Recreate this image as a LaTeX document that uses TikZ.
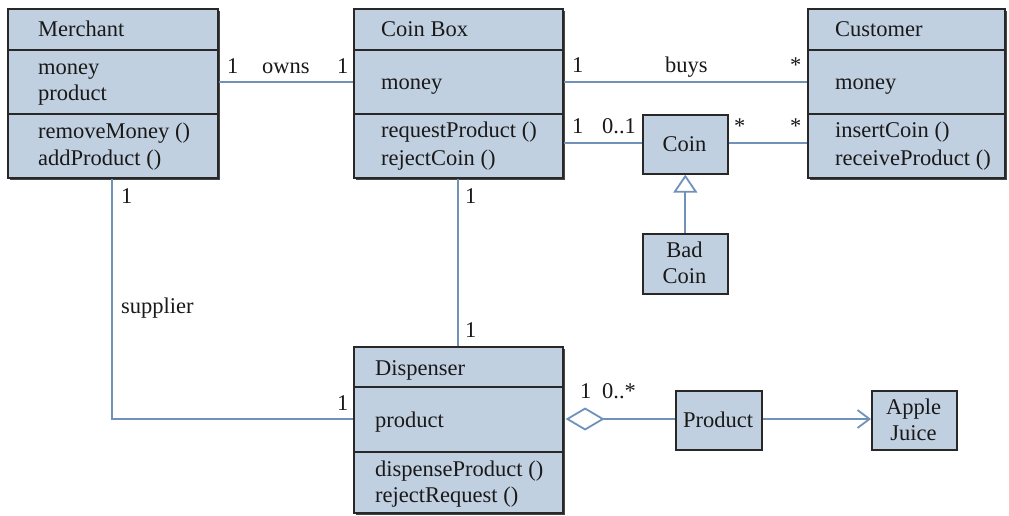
\documentclass[tikz,border=0pt]{standalone}
\usepackage{fontspec}
\setmainfont{Liberation Serif}
\newfontfamily\diagserif{Liberation Serif}
\usetikzlibrary{arrows.meta,calc}
\definecolor{boxfill}{RGB}{193,208,225}
\definecolor{linkcol}{RGB}{112,146,184}
\definecolor{edgecol}{RGB}{40,40,40}
\definecolor{shadowcol}{RGB}{70,70,70}
\tikzset{
  classbox/.style={draw=edgecol, line width=1.6pt, fill=boxfill, inner sep=0pt, anchor=north west},
  txt/.style={anchor=base west, inner sep=0pt, font=\diagserif\fontsize{22.5}{26}\selectfont, text=black!90},
  ctxt/.style={anchor=base, inner sep=0pt, font=\diagserif\fontsize{22.5}{26}\selectfont, text=black!90},
  assoc/.style={draw=linkcol, line width=1.8pt},
  divider/.style={draw=edgecol, line width=1.6pt},
}
\newcommand{\shadowbox}[4]{\fill[shadowcol] (#1+3,#2+3) rectangle (#3+3,#4+3);}
\begin{document}
\begin{tikzpicture}[x=1pt,y=-1pt]
\useasboundingbox (0,0) rectangle (1009,515);
% shadows
\shadowbox{7}{8}{217}{177}
\shadowbox{353}{8}{562}{177}
\shadowbox{807}{8}{1004}{177}
\shadowbox{353}{346}{562}{512}
% boxes
\node[classbox, minimum width=210pt, minimum height=169pt] (merchant) at (7,8) {};
\node[classbox, minimum width=209pt, minimum height=169pt] (coinbox) at (353,8) {};
\node[classbox, minimum width=197pt, minimum height=169pt] (customer) at (807,8) {};
\node[classbox, minimum width=209pt, minimum height=166pt] (dispenser) at (353,346) {};
\node[classbox, minimum width=85pt, minimum height=59pt] (coin) at (642,114) {};
\node[classbox, minimum width=85pt, minimum height=60pt] (badcoin) at (642,233) {};
\node[classbox, minimum width=86pt, minimum height=59pt] (product) at (675,390) {};
\node[classbox, minimum width=85pt, minimum height=59pt] (apple) at (871,390) {};
% dividers
\draw[divider] (merchant.west |- 0,50) -- (merchant.east |- 0,50);
\draw[divider] (merchant.west |- 0,114) -- (merchant.east |- 0,114);
\draw[divider] (coinbox.west |- 0,50) -- (coinbox.east |- 0,50);
\draw[divider] (coinbox.west |- 0,114) -- (coinbox.east |- 0,114);
\draw[divider] (customer.west |- 0,50) -- (customer.east |- 0,50);
\draw[divider] (customer.west |- 0,114) -- (customer.east |- 0,114);
\draw[divider] (dispenser.west |- 0,387) -- (dispenser.east |- 0,387);
\draw[divider] (dispenser.west |- 0,452) -- (dispenser.east |- 0,452);
% class texts
\node[txt] (mname) at (38,36) {Merchant};
\node[txt] (mmoney) at (38,74) {money};
\node[txt] (mprod) at (38,100) {product};
\node[txt] (mrem) at (38,138) {removeMoney ()};
\node[txt] (madd) at (38,165) {addProduct ()};
\node[txt] (cbname) at (381,36) {Coin Box};
\node[txt] (cbmoney) at (381,89) {money};
\node[txt] (cbreq) at (381,137) {requestProduct ()};
\node[txt] (cbrej) at (381,165) {rejectCoin ()};
\node[txt] (cuname) at (835,36) {Customer};
\node[txt] (cumoney) at (835,89) {money};
\node[txt] (cuins) at (835,137) {insertCoin ()};
\node[txt] (curec) at (835,165) {receiveProduct ()};
\node[txt] (dname) at (375,375) {Dispenser};
\node[txt] (dprod) at (375,427) {product};
\node[txt] (ddisp) at (375,476) {dispenseProduct ()};
\node[txt] (drej) at (375,502) {rejectRequest ()};
\node[ctxt] (cointxt) at (684.5,151) {Coin};
\node[ctxt] (badtxt1) at (684.5,257) {Bad};
\node[ctxt] (badtxt2) at (684.5,283) {Coin};
\node[ctxt] (prodtxt) at (718,427) {Product};
\node[ctxt] (appletxt1) at (913.5,414) {Apple};
\node[ctxt] (appletxt2) at (913.5,440) {Juice};
% connectors
\draw[assoc] (merchant.east |- 0,82) -- (coinbox.west |- 0,82);
\draw[assoc] (coinbox.east |- 0,82) -- (customer.west |- 0,82);
\draw[assoc] (coinbox.east |- 0,143) -- (coin.west |- 0,143);
\draw[assoc] (coin.east |- 0,143) -- (customer.west |- 0,143);
\draw[assoc, -{Triangle[open, length=18pt, width=24pt, fill=white]}] (badcoin.north) -- (coin.south);
\draw[assoc] (merchant.south -| 112,0) -- (112,419) -- (dispenser.west |- 0,419);
\draw[assoc] (coinbox.south -| 458,0) -- (dispenser.north -| 458,0);
\draw[assoc, {Diamond[open, length=39pt, width=23pt, fill=white]}-] ($(dispenser.east |- 0,419)+(2,0)$) -- (product.west |- 0,419);
\draw[assoc, -{Straight Barb[length=12pt, width=18pt]}] (product.east |- 0,419) -- (apple.west |- 0,419);
% multiplicities and roles
\node[txt] (m1) at (227,73) {1};
\node[txt] (owns) at (262,73) {owns};
\node[txt] (m2) at (337,73) {1};
\node[txt] (m3) at (572,72) {1};
\node[txt] (buys) at (665,72) {buys};
\node[txt] (m4) at (790,72) {*};
\node[txt] (m5) at (572,133) {1};
\node[txt] (m6) at (602,133) {0..1};
\node[txt] (m7) at (734,133) {*};
\node[txt] (m8) at (790,133) {*};
\node[txt] (m9) at (121,203) {1};
\node[txt] (m10) at (465,203) {1};
\node[txt] (supplier) at (121,313) {supplier};
\node[txt] (m11) at (465,337) {1};
\node[txt] (m12) at (337,410) {1};
\node[txt] (m13) at (580,398) {1};
\node[txt] (m14) at (602,398) {0..*};
\end{tikzpicture}
\end{document}
